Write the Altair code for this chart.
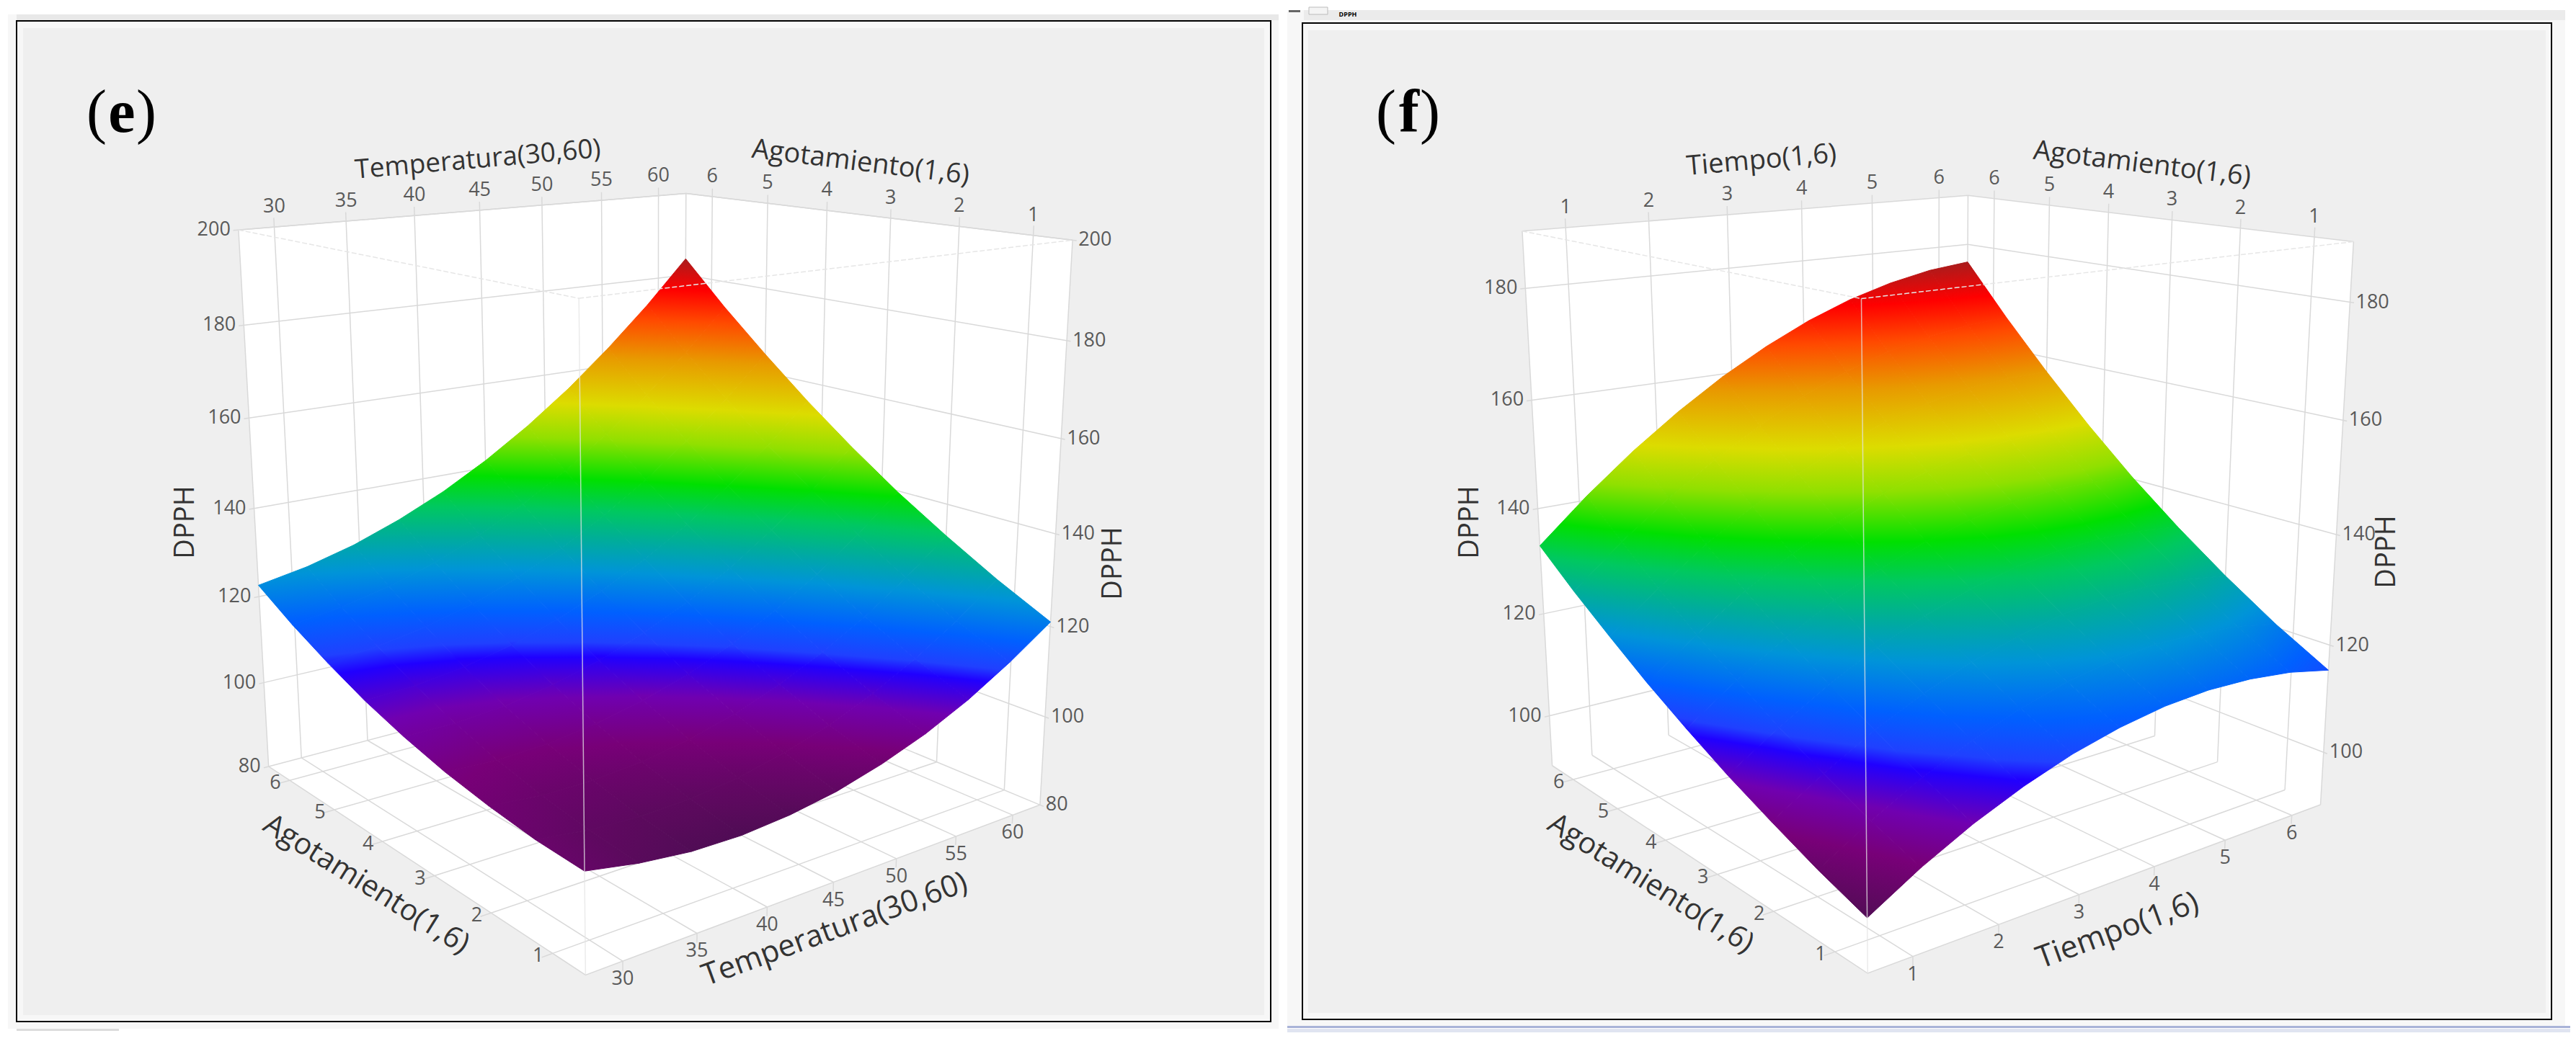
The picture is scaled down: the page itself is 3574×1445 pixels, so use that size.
import numpy as np
import altair as alt

# ---------- values ----------
E_TEMP = [30, 35, 40, 45, 50, 55, 60]
E_AGOT = [1, 2, 3, 4, 5, 6]
E_DPPH_TICKS = [80, 100, 120, 140, 160, 180, 200]
# surface sampled evenly across the whole box: rows Agotamiento low->high, columns Temperatura low->high
E_SURFACE = [
    [100, 98, 96.8, 96.6, 97.4, 99, 101.6, 105, 109.4, 114.8, 121],
    [100.5, 99, 98.4, 98.7, 99.9, 102.1, 105.1, 109.1, 114, 119.8, 126.6],
    [101.8, 100.7, 100.6, 101.4, 103.2, 105.8, 109.4, 113.9, 119.3, 125.6, 132.9],
    [103.6, 103, 103.4, 104.8, 107, 110.1, 114.2, 119.2, 125.1, 132, 139.7],
    [106.1, 106, 106.9, 108.8, 111.5, 115.2, 119.7, 125.2, 131.7, 139, 147.3],
    [109.2, 109.7, 111.1, 113.4, 116.7, 120.8, 125.9, 131.9, 138.9, 146.7, 155.5],
    [113.1, 114.1, 116, 118.8, 122.5, 127.2, 132.8, 139.3, 146.7, 155.1, 164.4],
    [117.5, 119, 121.4, 124.7, 129, 134.2, 140.3, 147.3, 155.2, 164.1, 173.8],
    [122.6, 124.6, 127.5, 131.4, 136.1, 141.8, 148.4, 155.9, 164.4, 173.7, 184],
]
E_COLOR_RANGE = [94, 184]
F_TIME = [1, 2, 3, 4, 5, 6]
F_AGOT = [1, 2, 3, 4, 5, 6]
F_DPPH_TICKS = [100, 120, 140, 160, 180]
# rows Agotamiento low->high, columns Tiempo low->high
F_SURFACE = [
    [99, 104.1, 108.4, 111.9, 114.7, 116.7, 118, 118.5, 118.2, 117.2, 115.4],
    [101.9, 107.2, 111.8, 115.5, 118.5, 120.8, 122.3, 123.1, 122.9, 122.2, 120.6],
    [105.3, 110.8, 115.7, 119.7, 122.9, 125.3, 127.2, 128.1, 128.4, 127.8, 126.6],
    [108.9, 114.7, 119.9, 124.2, 127.7, 130.6, 132.6, 133.8, 134.3, 134.1, 133.2],
    [113, 119.2, 124.6, 129.3, 133.1, 136.3, 138.6, 140.2, 141, 141, 140.4],
    [117.4, 123.9, 129.8, 134.7, 138.9, 142.5, 145.1, 147, 148.2, 148.7, 148.4],
    [122.3, 129.1, 135.4, 140.7, 145.3, 149.1, 152.3, 154.6, 156.2, 157, 157.1],
    [127.4, 134.8, 141.3, 147, 152.1, 156.5, 160, 162.7, 164.6, 165.9, 166.4],
    [133, 140.8, 147.8, 154, 159.5, 164.2, 168.2, 171.4, 173.8, 175.5, 176.4],
]
F_COLOR_RANGE = [96.4, 176.4]
# rainbow used by the surfaces (position within the DPPH range -> colour)
RAMP_POS = [0, 0.045, 0.10, 0.15, 0.20, 0.22, 0.265, 0.33, 0.385, 0.44, 0.5, 0.58, 0.655, 0.76, 0.85, 0.925, 1]
RAMP_HEX = ["#3c1048", "#5a0a5c", "#780078", "#7000b0", "#2000ff", "#2040ff", "#0060ff", "#0094d8", "#00ac9c",
            "#00c860", "#00e000", "#90e000", "#dcdc00", "#e89a00", "#ff4a00", "#ff0000", "#a81c1c"]

# box limits of each 3D view
E_BOX = dict(x0=27.6, x1=62.5, a0=0.5, a1=6.5, d0=80, d1=200)
F_BOX = dict(x0=0.5, x1=6.45, a0=0.5, a1=6.5, d0=90, d1=190)

# camera calibration: known 3D location -> where the picture shows it
def calib(b, xa, xb, ticks_top, ticks_bot, a_top, a_bot, corners, walls):
    pts = []
    x0, x1, a0, a1, d0, d1 = b["x0"], b["x1"], b["a0"], b["a1"], b["d0"], b["d1"]
    pts += [((x0, a1, d1), corners[0]), ((x1, a1, d1), corners[1]), ((x1, a0, d1), corners[2]),
            ((x0, a0, d1), corners[3]), ((x0, a1, d0), corners[4]), ((x0, a0, d0), corners[5]),
            ((x1, a0, d0), corners[6])]
    pts += [((xa, a1, d1), ticks_top[0]), ((xb, a1, d1), ticks_top[1])]
    pts += [((xa, a0, d0), ticks_bot[0]), ((xb, a0, d0), ticks_bot[1])]
    pts += [((x1, 6, d1), a_top[0]), ((x1, 1, d1), a_top[1])]
    pts += [((x0, 6, d0), a_bot[0]), ((x0, 1, d0), a_bot[1])]
    pts += walls
    return pts

E_CAL = calib(E_BOX, 30, 60, [(381, 315), (914, 272)], [(865, 1333), (1402, 1131)],
              [(988, 273), (1432, 320)], [(403, 1083), (768, 1325)],
              [(332, 319), (952, 269), (1488, 337), (802, 415), (371, 1064), (812, 1353), (1441, 1117)],
              [((27.6, 6.5, 180), (337, 451)), ((62.5, 0.5, 180), (1480, 475)),
               ((62.5, 0.5, 120), (1461, 868)), ((62.5, 0.5, 100), (1452, 997))])
F_CAL = calib(F_BOX, 1, 6, [(2172, 315), (2688, 276)], [(2655, 1328), (3174, 1131)],
              [(2768, 276), (3210, 323)], [(2180, 1082), (2546, 1322)],
              [(2113, 320), (2732, 272), (3263, 337), (2582, 417), (2154, 1063), (2592, 1350), (3218, 1116)],
              [((0.5, 6.5, 180), (2116, 400)), ((0.5, 6.5, 100), (2151, 993)), ((6.45, 0.5, 180), (3261, 421)),
               ((6.45, 0.5, 120), (3238, 897)), ((6.45, 0.5, 100), (3227, 1045))])


def fit_camera(cal):
    A = []
    for (X, Y, Z), (u, v) in cal:
        s = (X, Y, Z, 1.0)
        A.append(list(s) + [0, 0, 0, 0] + [-u * c for c in s])
        A.append([0, 0, 0, 0] + list(s) + [-v * c for c in s])
    A = np.array(A, float)
    scale = np.abs(A).max(axis=0)
    _, _, vt = np.linalg.svd(A / scale)
    return (vt[-1] / scale).reshape(3, 4)


def proj(P, X, Y, Z):
    w = P @ np.array([X, Y, Z, 1.0])
    return float(w[0] / w[2]), float(w[1] / w[2])


def ramp_color(u):
    u = min(1.0, max(0.0, u))
    i = int(np.searchsorted(RAMP_POS, u, side="right")) - 1
    i = min(i, len(RAMP_POS) - 2)
    t = (u - RAMP_POS[i]) / (RAMP_POS[i + 1] - RAMP_POS[i])
    a = [int(RAMP_HEX[i][k:k + 2], 16) for k in (1, 3, 5)]
    b = [int(RAMP_HEX[i + 1][k:k + 2], 16) for k in (1, 3, 5)]
    c = [round(a[k] + (b[k] - a[k]) * t) for k in range(3)]
    return "#%02x%02x%02x" % tuple(c)


def envelope(poly):
    xs = sorted({round(p[0], 2) for p in poly})
    rows = []
    n = len(poly)
    for x in xs:
        ys = []
        for i in range(n):
            (xa, ya), (xb, yb) = poly[i], poly[(i + 1) % n]
            xa, xb = round(xa, 2), round(xb, 2)
            if min(xa, xb) <= x <= max(xa, xb):
                if xa == xb:
                    ys += [ya, yb]
                else:
                    ys.append(ya + (yb - ya) * (x - xa) / (xb - xa))
        rows.append({"x": x, "y": round(min(ys), 2), "y2": round(max(ys), 2)})
    return rows


XS = alt.Scale(domain=[8, 3566])
YS = alt.Scale(domain=[1433, 8])
X = alt.X("x:Q", scale=XS, axis=None)
Y = alt.Y("y:Q", scale=YS, axis=None)
X2 = alt.X2("x2:Q")
Y2 = alt.Y2("y2:Q")


def area(poly, **mk):
    return alt.Chart(alt.Data(values=envelope(poly))).mark_area(**mk).encode(x=X, y=Y, y2=Y2)


def quad_gradient(pts, ds, lo, hi):
    xs = [p[0] for p in pts]
    ys = [p[1] for p in pts]
    x0, w = min(xs), max(max(xs) - min(xs), 1e-6)
    y0, h = min(ys), max(max(ys) - min(ys), 1e-6)
    uv = np.array([[(p[0] - x0) / w - .5, (p[1] - y0) / h - .5, 1.0] for p in pts])
    co, *_ = np.linalg.lstsq(uv, np.array(ds, float), rcond=None)
    g = float(np.hypot(co[0], co[1]))
    if g < 1e-6:
        return ramp_color((np.mean(ds) - lo) / (hi - lo))
    dx, dy = co[0] / g, co[1] / g
    s = uv[:, 0] * dx + uv[:, 1] * dy
    s0, s1 = float(s.min()), float(s.max())
    d0, d1 = co[2] + s0 * g, co[2] + s1 * g
    stops = [{"offset": 0, "color": ramp_color((d0 - lo) / (hi - lo))}]
    for pos in RAMP_POS:
        d = lo + pos * (hi - lo)
        if d0 < d < d1:
            stops.append({"offset": round(float((d - d0) / (d1 - d0)), 4), "color": ramp_color(pos)})
    stops.append({"offset": 1, "color": ramp_color((d1 - lo) / (hi - lo))})
    return {"gradient": "linear", "stops": stops,
            "x1": round(float(.5 + dx * s0), 4), "y1": round(float(.5 + dy * s0), 4),
            "x2": round(float(.5 + dx * s1), 4), "y2": round(float(.5 + dy * s1), 4)}


GRID = "#d9d9d9"


def lines(rows, color=GRID, width=1.5, **mk):
    return alt.Chart(alt.Data(values=rows)).mark_line(color=color, strokeWidth=width, **mk).encode(
        x=X, y=Y, detail="seg:N")


def text_layer(rows, color, size=None, align="center", family="Open Sans", weight="normal"):
    mk = dict(color=color, font=family, align=align, baseline="middle", fontWeight=weight)
    enc = dict(x=X, y=Y, text="t:N", angle=alt.Angle("a:Q", scale=None))
    if size is None:
        enc["size"] = alt.Size("s:Q", scale=None)
    else:
        mk["fontSize"] = size
    return alt.Chart(alt.Data(values=rows)).mark_text(**mk).encode(**enc)


def panel(cal, b, xt, at, dt, surf, crange, names):
    P = fit_camera(cal)
    x0, x1, a0, a1, d0, d1 = b["x0"], b["x1"], b["a0"], b["a1"], b["d0"], b["d1"]
    p = lambda X_, A_, D_: proj(P, X_, A_, D_)
    out = []
    # white walls and floor
    hexagon = [p(x0, a1, d1), p(x1, a1, d1), p(x1, a0, d1), p(x1, a0, d0), p(x0, a0, d0), p(x0, a1, d0)]
    out.append(area(hexagon, fill="white"))
    seg, k = [], 0

    def add(*ends):
        nonlocal k
        k += 1
        for e in ends:
            u, v = p(*e)
            seg.append({"x": round(u, 2), "y": round(v, 2), "seg": k})

    tick = (d1 - d0) * 0.016
    for t in xt:
        add((t, a1, d0), (t, a1, d1 + tick))
        add((t, a0, d0), (t, a1, d0))
        add((t, a0, d0), (t, a0, d0 - tick))
    for a in at:
        add((x1, a, d0), (x1, a, d1 + tick))
        add((x0, a, d0), (x1, a, d0))
        add((x0, a, d0), (x0 - (x1 - x0) * 0.02, a, d0))
    for d in dt:
        add((x0 - (x1 - x0) * 0.01, a1, d), (x1, a1, d))
        add((x1, a1, d), (x1, a0 - 0.05, d))
    add((x0, a1, d1), (x1, a1, d1), (x1, a0, d1))
    add((x0, a1, d0), (x0, a0, d0), (x1, a0, d0))
    add((x0, a1, d0), (x0, a1, d1))
    add((x1, a0, d0), (x1, a0, d1))
    add((x1, a1, d0), (x1, a1, d1))
    out.append(lines(seg))
    # surface, one patch per cell of the grid (the grid spans the whole box)
    arr = np.array(surf, float)
    lo, hi = crange
    nr, nc = arr.shape
    gx = [x0 + (x1 - x0) * j / (nc - 1) for j in range(nc)]
    ga = [a0 + (a1 - a0) * i / (nr - 1) for i in range(nr)]
    for i in range(nr - 1):
        for j in range(nc - 1):
            c = [(j, i), (j + 1, i), (j + 1, i + 1), (j, i + 1)]
            pts = [p(gx[jj], ga[ii], arr[ii][jj]) for jj, ii in c]
            ds = [arr[ii][jj] for jj, ii in c]
            g = quad_gradient(pts, ds, lo, hi)
            out.append(area(pts, fill=g, stroke=g, strokeWidth=1))
    # near edges of the box, over the surface
    rim = []
    for n, e in enumerate([((x0, a1, d1), (x0, a0, d1)), ((x0, a0, d1), (x1, a0, d1))]):
        for q in e:
            u, v = p(*q)
            rim.append({"x": u, "y": v, "seg": n})
    out.append(lines(rim, color="#e6e6e6", width=1.5, strokeDash=[7, 3]))
    fr = [dict(zip("xy", p(x0, a0, d)), seg=0) for d in (d0, d1)]
    out.append(lines(fr, color="#e4e4e4", width=1.5, opacity=0.75))
    # tick labels
    lab = []
    for t in xt:
        u, v = p(t, a1, d1)
        lab.append({"x": u, "y": v - 28, "t": str(t), "a": 0})
        u, v = p(t, a0, d0)
        lab.append({"x": u, "y": v + 25, "t": str(t), "a": 0})
    for a in at:
        u, v = p(x1, a, d1)
        lab.append({"x": u, "y": v - 28, "t": str(a), "a": 0})
        u, v = p(x0, a, d0)
        lab.append({"x": u - 20, "y": v + 4, "t": str(a), "a": 0})
    out.append(text_layer(lab, "#595959", 27))
    left = [dict(zip("xy", p(x0, a1, d)), t=str(d), a=0) for d in dt]
    right = [dict(zip("xy", p(x1, a0, d)), t=str(d), a=0) for d in dt]
    for r in left:
        r["x"] -= 11
    for r in right:
        r["x"] += 8
    out.append(text_layer(left, "#595959", 27, align="right"))
    out.append(text_layer(right, "#595959", 27, align="left"))
    out.append(text_layer(names, "#333333"))
    return out


# ---------- page furniture ----------
def rect(x, x2, y, y2, **mk):
    return alt.Chart(alt.Data(values=[{"x": x, "x2": x2, "y": y, "y2": y2}])).mark_rect(**mk).encode(
        x=X, x2=X2, y=Y, y2=Y2)


layers = [
    rect(11, 1774, 20, 1428, fill="#f7f7f7"),
    rect(23, 1774, 20, 28, fill="#e8e8e8"),
    rect(23, 1763, 29, 1418, fill="#f7f7f7", stroke="black", strokeWidth=2),
    rect(32, 1754, 39, 1409, fill="#efefef"),
    rect(23, 165, 1428, 1431, fill="#dcdcdc"),
    rect(1786, 3559, 14, 1424, fill="#f7f7f7"),
    rect(1809, 3559, 14, 28, fill="#ebebeb"),
    rect(1807, 3540, 32, 1415, fill="#f7f7f7", stroke="black", strokeWidth=2),
    rect(1815, 3532, 42, 1406, fill="#efefef"),
    rect(1786, 3566, 1424, 1427, fill="#a9b3d8"),
    rect(1786, 3566, 1428, 1433, fill="#e0e4f1"),
    rect(1788, 1804, 14, 17, fill="#666666"),
    rect(1816, 1842, 10, 20, fill="#f4f4f4", stroke="#bbbbbb", strokeWidth=1),
    text_layer([{"x": 1870, "y": 20, "t": "DPPH", "a": 0}], "black", 9, weight="bold"),
]

E_NAMES = [
    {"x": 663, "y": 222, "t": "Temperatura(30,60)", "a": 355, "s": 37},
    {"x": 1194, "y": 226, "t": "Agotamiento(1,6)", "a": 7, "s": 38},
    {"x": 508, "y": 1228, "t": "Agotamiento(1,6)", "a": 32, "s": 41},
    {"x": 1158, "y": 1290, "t": "Temperatura(30,60)", "a": 340, "s": 42},
    {"x": 258, "y": 725, "t": "DPPH", "a": 270, "s": 38},
    {"x": 1545, "y": 782, "t": "DPPH", "a": 270, "s": 38},
]
F_NAMES = [
    {"x": 2444, "y": 223, "t": "Tiempo(1,6)", "a": 355, "s": 38},
    {"x": 2972, "y": 228, "t": "Agotamiento(1,6)", "a": 7, "s": 38},
    {"x": 2290, "y": 1227, "t": "Agotamiento(1,6)", "a": 32, "s": 41},
    {"x": 2938, "y": 1292, "t": "Tiempo(1,6)", "a": 340, "s": 43},
    {"x": 2040, "y": 725, "t": "DPPH", "a": 270, "s": 38},
    {"x": 3312, "y": 766, "t": "DPPH", "a": 270, "s": 38},
]

layers += panel(E_CAL, E_BOX, E_TEMP, E_AGOT, E_DPPH_TICKS, E_SURFACE, E_COLOR_RANGE, E_NAMES)
layers += panel(F_CAL, F_BOX, F_TIME, F_AGOT, F_DPPH_TICKS, F_SURFACE, F_COLOR_RANGE, F_NAMES)
layers.append(text_layer([{"x": 134, "y": 158, "t": "(", "a": 0}, {"x": 203, "y": 158, "t": ")", "a": 0},
                          {"x": 1923, "y": 158, "t": "(", "a": 0}, {"x": 1984, "y": 158, "t": ")", "a": 0}],
                         "black", 84, family="Liberation Serif"))
layers.append(text_layer([{"x": 169, "y": 158, "t": "e", "a": 0}, {"x": 1955, "y": 158, "t": "f", "a": 0}],
                         "black", 84, family="Liberation Serif", weight="bold"))

chart = alt.layer(*layers).properties(
    width=3558, height=1425, padding=0, autosize=alt.AutoSizeParams(type="none")
).configure_view(strokeWidth=0)

chart.save("out.html", embed_options={"renderer": "svg", "actions": False})
